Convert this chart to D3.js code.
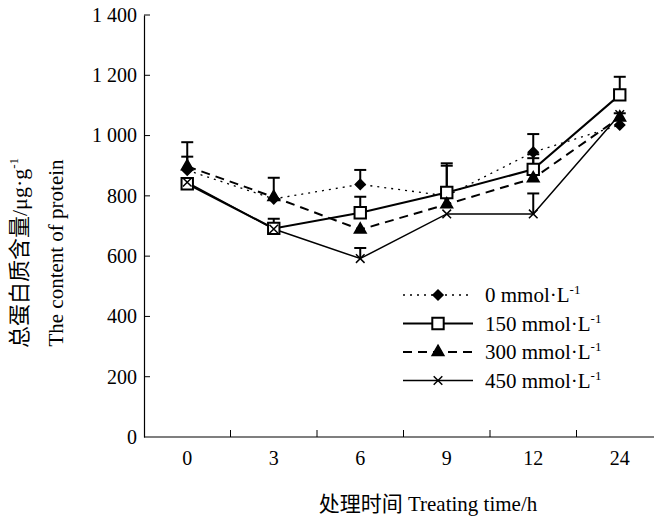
<!DOCTYPE html>
<html>
<head>
<meta charset="utf-8">
<script src="https://cdn.jsdelivr.net/npm/d3@7"></script>
<style>
  body { margin: 0; background: #fff; }
  svg { display: block; font-family: "Liberation Serif", "Noto Sans CJK SC", serif; }
</style>
</head>
<body>
<div id="chart"></div>
<script>
var times = ["0", "3", "6", "9", "12", "24"];
var seriesNames = ["0", "150", "300", "450"];
var salt0 = [885, 790, 838, 800, 945, 1035];
var salt0Err = [45, 70, 48, 100, 60, 0];
var salt150 = [840, 692, 744, 811, 888, 1135];
var salt150Err = [0, 32, 53, 97, 50, 60];
var salt300 = [898, 796, 688, 772, 858, 1060];
var salt300Err = [80, 0, 0, 0, 67, 14];
var salt450 = [845, 690, 592, 740, 740, 1070];
var salt450Err = [0, 0, 35, 0, 68, 0];
var yTicks = [0, 200, 400, 600, 800, 1000, 1200, 1400];

var width = 654, height = 521;
var plotLeft = 144, plotBottom = 437, plotTop = 15;
var serif = "'Liberation Serif', 'Noto Sans CJK SC', serif";

// diamond drawn as a square turned 45 degrees
var series = [
  {name: seriesNames[0], values: salt0, err: salt0Err, dash: "2,5", lw: 1.3, symbol: d3.symbolSquare, rot: 45, size: 50, fill: "#000"},
  {name: seriesNames[1], values: salt150, err: salt150Err, dash: null, lw: 2, symbol: d3.symbolSquare, rot: 0, size: 130, fill: "#fff"},
  {name: seriesNames[2], values: salt300, err: salt300Err, dash: "9,6", lw: 2, symbol: d3.symbolTriangle, rot: 0, size: 60, fill: "#000"},
  {name: seriesNames[3], values: salt450, err: salt450Err, dash: null, lw: 1.5, symbol: d3.symbolX, rot: 0, size: 50, fill: "none"}
];

var svg = d3.select("#chart").append("svg")
    .attr("width", width)
    .attr("height", height)
    .attr("font-family", serif);

var x = d3.scaleBand()
    .domain(times)
    .range([plotLeft, plotLeft + 6 * 86.5]);

var y = d3.scaleLinear()
    .domain([0, 1400])
    .range([plotBottom, plotTop]);

var fmt = d3.formatLocale({decimal: ".", thousands: " ", grouping: [3], currency: ["", ""]}).format(",");

// y axis, ticks pointing inward
var yAxis = d3.axisLeft(y)
    .tickValues(yTicks)
    .tickSize(0)
    .tickPadding(7)
    .tickFormat(fmt);

var gy = svg.append("g")
    .attr("transform", "translate(" + plotLeft + ",0)")
    .call(yAxis)
    .attr("font-family", serif)
    .attr("font-size", 20);
gy.select(".domain").attr("stroke", "#000").attr("stroke-width", 1.2);
gy.selectAll("text").attr("fill", "#000");
gy.selectAll(".inner").data(yTicks.slice(1)).enter().append("line")
    .attr("class", "inner")
    .attr("x1", 0).attr("x2", 6)
    .attr("y1", function(d) { return y(d); })
    .attr("y2", function(d) { return y(d); })
    .attr("stroke", "#000");

// x axis
var xAxis = d3.axisBottom(x)
    .tickSize(0)
    .tickPadding(14);

var gx = svg.append("g")
    .attr("transform", "translate(0," + plotBottom + ")")
    .call(xAxis)
    .attr("font-family", serif)
    .attr("font-size", 20);
gx.select(".domain").remove();
gx.selectAll("text").attr("fill", "#000");
gx.append("line")
    .attr("x1", plotLeft).attr("x2", width)
    .attr("y1", 0).attr("y2", 0)
    .attr("stroke", "#000").attr("stroke-width", 1.2);
gx.selectAll(".sep").data(times.slice(1)).enter().append("line")
    .attr("class", "sep")
    .attr("x1", function(d) { return x(d); })
    .attr("x2", function(d) { return x(d); })
    .attr("y1", 0).attr("y2", -7)
    .attr("stroke", "#000");

// axis titles
svg.append("text")
    .attr("x", 428).attr("y", 511)
    .attr("text-anchor", "middle")
    .attr("font-size", 21)
    .text("处理时间 Treating time/h");

var ylab = svg.append("g")
    .attr("transform", "translate(0,253) rotate(-90)");
var l1 = ylab.append("text")
    .attr("x", 0).attr("y", 27)
    .attr("text-anchor", "middle")
    .attr("font-size", 22);
l1.append("tspan").text("总蛋白质含量/μg·g");
l1.append("tspan").attr("dy", -9).attr("font-size", 13).text("-1");
ylab.append("text")
    .attr("x", 0).attr("y", 63)
    .attr("text-anchor", "middle")
    .attr("font-size", 21)
    .text("The content of protein");

var cx = function(i) { return x(times[i]) + x.bandwidth() / 2; };

var line = d3.line()
    .x(function(d, i) { return cx(i); })
    .y(function(d) { return y(d); });

// lines
series.forEach(function(s) {
  svg.append("path")
      .datum(s.values)
      .attr("d", line)
      .attr("fill", "none")
      .attr("stroke", "#000")
      .attr("stroke-width", s.lw)
      .attr("stroke-dasharray", s.dash);
});

// error bars (upper only)
series.forEach(function(s) {
  var g = svg.append("g");
  s.values.forEach(function(v, i) {
    if (!s.err[i]) return;
    g.append("line")
        .attr("x1", cx(i)).attr("x2", cx(i))
        .attr("y1", y(v)).attr("y2", y(v + s.err[i]))
        .attr("stroke", "#000").attr("stroke-width", 2);
    g.append("line")
        .attr("x1", cx(i) - 6).attr("x2", cx(i) + 6)
        .attr("y1", y(v + s.err[i])).attr("y2", y(v + s.err[i]))
        .attr("stroke", "#000").attr("stroke-width", 2);
  });
});

// markers
series.forEach(function(s) {
  svg.append("g").selectAll("path")
      .data(s.values)
    .enter().append("path")
      .attr("d", d3.symbol().type(s.symbol).size(s.size))
      .attr("transform", function(d, i) { return "translate(" + cx(i) + "," + y(d) + ") rotate(" + s.rot + ")"; })
      .attr("fill", s.fill)
      .attr("stroke", "#000")
      .attr("stroke-width", s.fill === "#fff" ? 2 : 1.5);
});

// legend
var legend = svg.append("g").attr("transform", "translate(403,295)");
series.forEach(function(s, i) {
  var row = legend.append("g").attr("transform", "translate(0," + (i * 28.5) + ")");
  row.append("line")
      .attr("x1", 0).attr("x2", 70)
      .attr("y1", 0).attr("y2", 0)
      .attr("stroke", "#000")
      .attr("stroke-width", s.lw)
      .attr("stroke-dasharray", s.dash);
  row.append("path")
      .attr("d", d3.symbol().type(s.symbol).size(s.size))
      .attr("transform", "translate(35,0) rotate(" + s.rot + ")")
      .attr("fill", s.fill)
      .attr("stroke", "#000")
      .attr("stroke-width", s.fill === "#fff" ? 2 : 1.5);
  var t = row.append("text")
      .attr("x", 82).attr("y", 7)
      .attr("font-size", 21);
  t.append("tspan").text(s.name + " mmol·L");
  t.append("tspan").attr("dy", -8).attr("font-size", 13).text("-1");
});
</script>
</body>
</html>
